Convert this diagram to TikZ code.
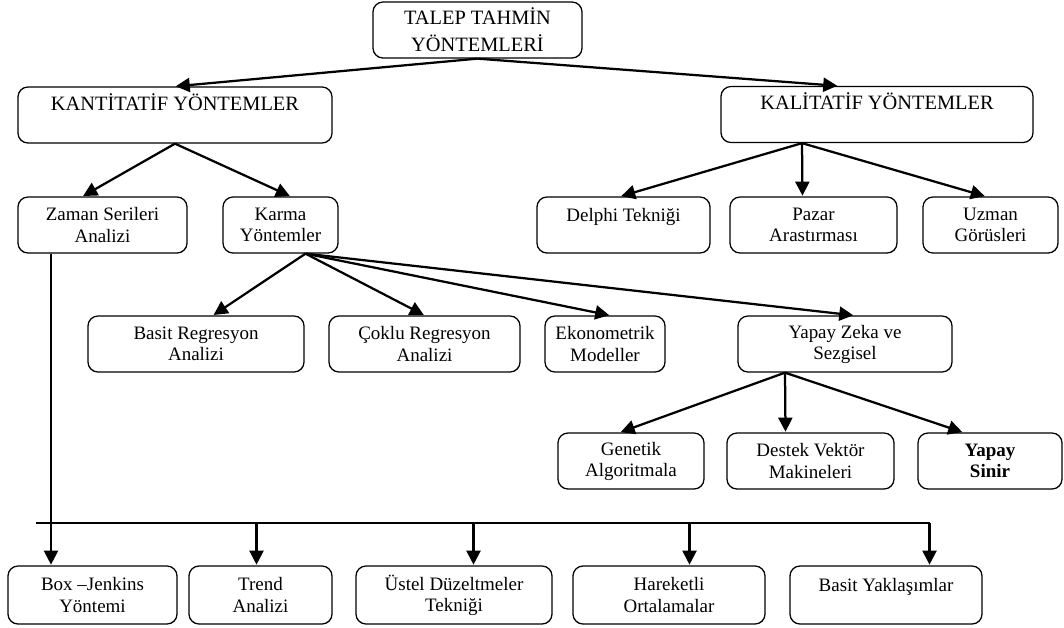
\documentclass[tikz,border=0pt]{standalone}
\usepackage{fontspec}
\setmainfont{Liberation Serif}
\usetikzlibrary{arrows.meta,positioning,calc}
\tikzset{
    box/.style={rectangle, draw, rounded corners=2.5mm, line width=0.9pt, align=center, inner sep=0, minimum height=1.4cm, font=\fontsize{13.5}{15}\selectfont},
    capbox/.style={box, font=\fontsize{14.5}{19}\selectfont},
    post/.style={-{Triangle[length=10pt,width=10pt]}, line width=1.6pt, shorten >=0.5pt},
    bus/.style={line width=0.9pt},
  }
\begin{document}
\begin{tikzpicture}[x=0.025cm, y=-0.025cm]
  \useasboundingbox (0,0) rectangle (1064,627);

  % top levels
  \node (talep) [capbox, minimum width=5.225cm] at (477.5,30) {TALEP TAHMİN\\YÖNTEMLERİ};
  \node (kant) [capbox, minimum width=7.85cm] at (175,115) {KANTİTATİF YÖNTEMLER\\ \mbox{}};
  \node (kali) [capbox, minimum width=7.8cm] at (877,114.5) {KALİTATİF YÖNTEMLER\\ \mbox{}};

  % second row
  \node (zaman) [box, minimum width=4.225cm] at (102.5,225) {Zaman Serileri\\Analizi};
  \node (karma) [box, minimum width=2.875cm] at (280.5,225) {Karma\\Yöntemler};
  \node (delphi) [box, minimum width=4.325cm] at (623.5,225) {Delphi Tekniği\\ \mbox{}};
  \node (pazar) [box, minimum width=4.175cm] at (813.5,225) {Pazar\\Arastırması};
  \node (uzman) [box, minimum width=3.375cm] at (990.5,225) {Uzman\\Görüsleri};

  % third row
  \node (basit) [box, minimum width=5.4cm] at (196,344) {Basit Regresyon\\Analizi};
  \node (coklu) [box, minimum width=4.775cm] at (424.5,344) {Çoklu Regresyon\\Analizi};
  \node (ekono) [box, minimum width=3cm] at (605,344) {Ekonometrik\\Modeller};
  \node (yapay) [box, minimum width=5.35cm] at (845,344) {Yapay Zeka ve\\Sezgisel};

  \node (genetik) [box, minimum width=3.65cm] at (631,461) {Genetik\\Algoritmala};
  \node (destek) [box, minimum width=4.175cm] at (810.5,461) {Destek Vektör\\Makineleri};
  \node (sinir) [box, minimum width=3.6cm] at (990,461) {\bfseries Yapay\\\bfseries Sinir};

  % bottom row
  \node (boxj) [box, minimum width=4.225cm, minimum height=1.45cm] at (92.5,595) {Box --Jenkins\\Yöntemi};
  \node (trend) [box, minimum width=3.575cm, minimum height=1.45cm] at (260.5,595) {Trend\\Analizi};
  \node (ustel) [box, minimum width=4.9cm, minimum height=1.45cm] at (454,595) {Üstel Düzeltmeler\\Tekniği};
  \node (hareketli) [box, minimum width=4.8cm, minimum height=1.45cm] at (669,595) {Hareketli\\Ortalamalar};
  \node (yaklasim) [box, minimum width=4.8cm, minimum height=1.45cm] at (886,595) {Basit Yaklaşımlar\\ \mbox{}};

  % arrows
  \draw[post] (talep.south) -- (kant.north);
  \draw[post] (talep.south) -- ($(kali.north)+(-39,0)$);
  \draw[post] (kant.south) -- ($(zaman.north)+(-20,0)$);
  \draw[post] (kant.south) -- ($(karma.north)+(10,0)$);

  \coordinate (kalibot) at ($(kali.south)+(-75,0)$);
  \foreach \n/\dx in {delphi/-3, pazar/-11, uzman/-5}
    \draw[post] (kalibot) -- ($(\n.north)+(\dx,0)$);

  \coordinate (karmabot) at ($(karma.south)+(25,0)$);
  \foreach \n/\dx in {basit/17, coklu/0, ekono/5, yapay/9}
    \draw[post] (karmabot) -- ($(\n.north)+(\dx,0)$);

  \coordinate (yapaybot) at ($(yapay.south)+(-60,0)$);
  \foreach \n/\dx in {genetik/-11, destek/-25, sinir/-27}
    \draw[post] (yapaybot) -- ($(\n.north)+(\dx,0)$);

  % time series bus
  \coordinate (busl) at (36,523);
  \coordinate (b1) at (51,523);
  \coordinate (b2) at (256.5,523);
  \coordinate (b3) at (473.5,523);
  \coordinate (b4) at (689.5,523);
  \coordinate (b5) at (929.5,523);
  \draw[bus] (busl) -- (b5);
  \draw[post] (zaman.south -| b1) -- (boxj.north -| b1);
  \foreach \b/\n in {b2/trend, b3/ustel, b4/hareketli, b5/yaklasim}
    \draw[post] (\b) -- (\n.north -| \b);
\end{tikzpicture}
\end{document}
